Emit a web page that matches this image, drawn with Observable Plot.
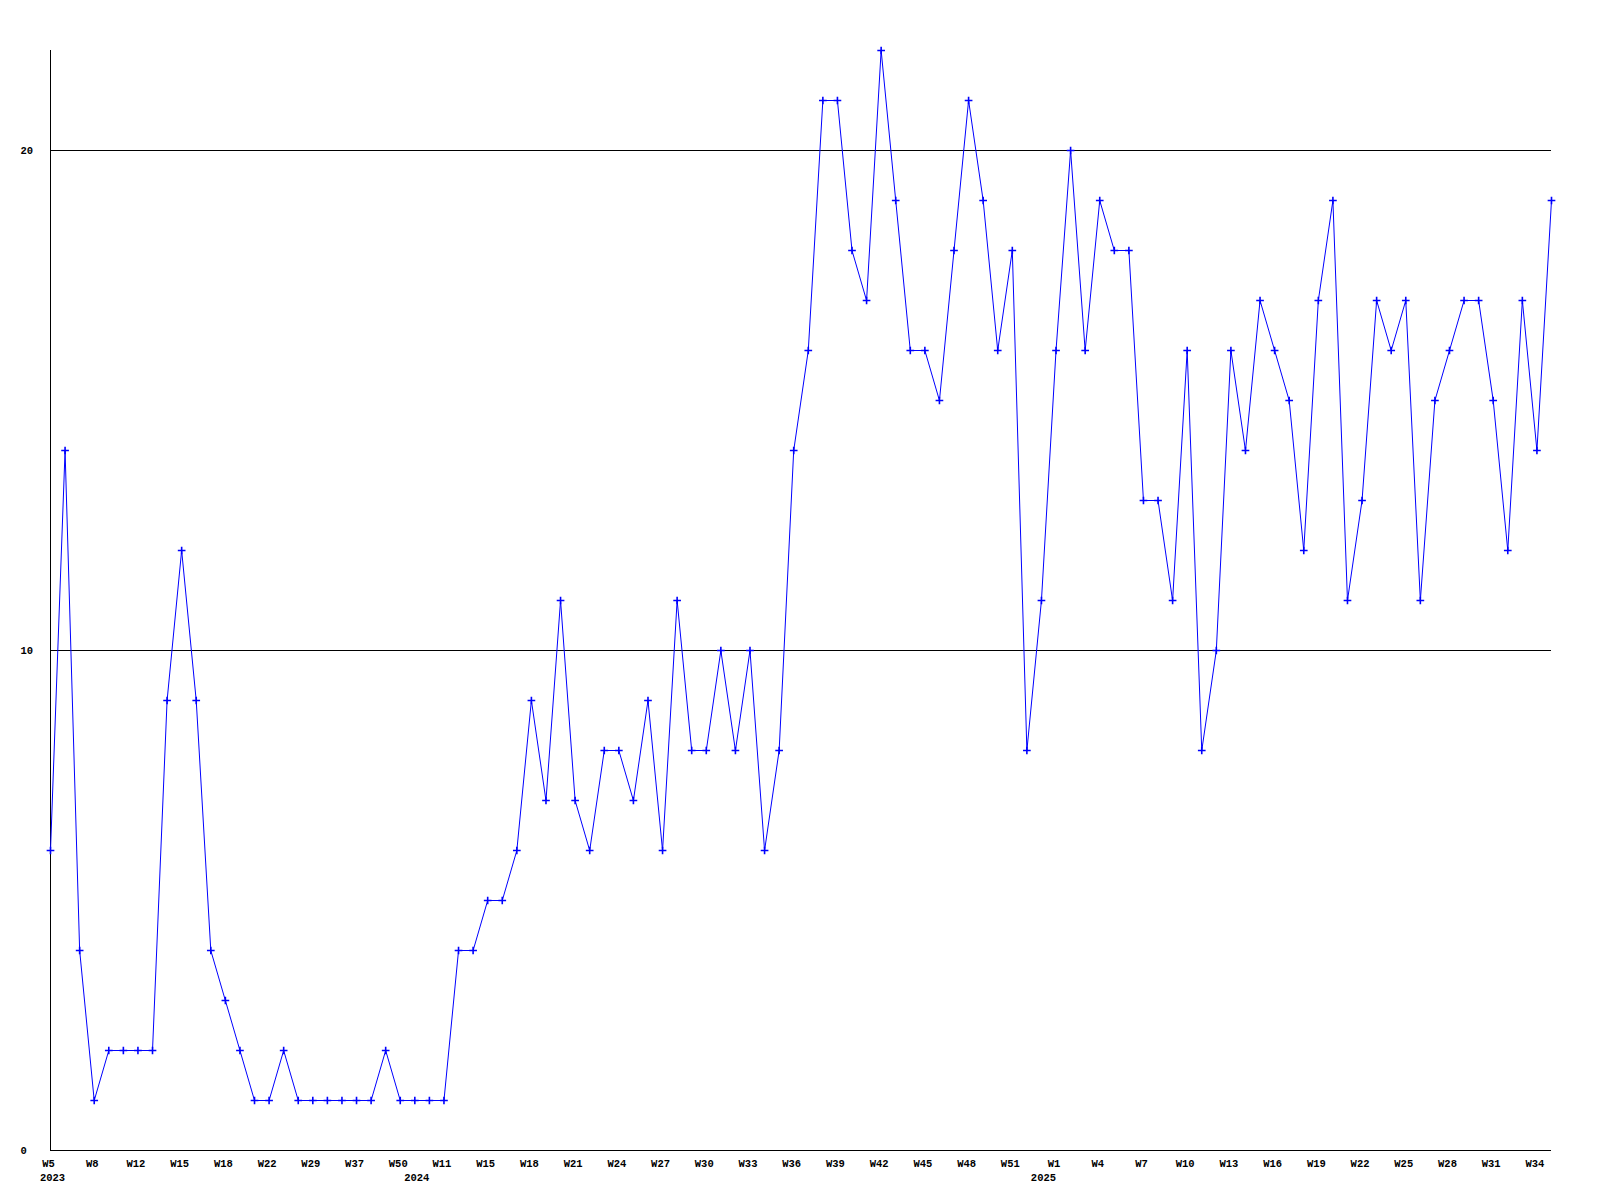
<!DOCTYPE html>
<html>
<head>
<meta charset="utf-8">
<script src="https://cdn.jsdelivr.net/npm/d3@7"></script>
<script src="https://cdn.jsdelivr.net/npm/@observablehq/plot@0.6"></script>
<style>
  html, body { margin: 0; padding: 0; background: #ffffff; }
  #chart svg { display: block; }
</style>
</head>
<body>
<div id="chart"></div>
<script>
// Weekly counts, one per data point (equally spaced on the x axis)
const values = [
  6, 14, 4, 1, 2, 2, 2, 2, 9, 12,
  9, 4, 3, 2, 1, 1, 2, 1, 1, 1,
  1, 1, 1, 2, 1, 1, 1, 1, 4, 4,
  5, 5, 6, 9, 7, 11, 7, 6, 8, 8,
  7, 9, 6, 11, 8, 8, 10, 8, 10, 6,
  8, 14, 16, 21, 21, 18, 17, 22, 19, 16,
  16, 15, 18, 21, 19, 16, 18, 8, 11, 16,
  20, 16, 19, 18, 18, 13, 13, 11, 16, 8,
  10, 16, 14, 17, 16, 15, 12, 17, 19, 11,
  13, 17, 16, 17, 11, 15, 16, 17, 17, 15,
  12, 17, 14, 19
];

// x tick labels (every third point)
const tickIndex = [0, 3, 6, 9, 12, 15, 18, 21, 24, 27, 30, 33, 36, 39, 42, 45, 48, 51,
  54, 57, 60, 63, 66, 69, 72, 75, 78, 81, 84, 87, 90, 93, 96, 99, 102];
const tickLabels = ["W5", "W8", "W12", "W15", "W18", "W22", "W29", "W37", "W50",
  "W11", "W15", "W18", "W21", "W24", "W27", "W30", "W33", "W36", "W39", "W42",
  "W45", "W48", "W51", "W1", "W4", "W7", "W10", "W13", "W16", "W19", "W22",
  "W25", "W28", "W31", "W34"];

// year labels at the first point of each year
const yearIndex = [0, 25, 68];
const yearLabels = ["2023", "2024", "2025"];

// y axis labels / grid lines
const yTicks = [0, 10, 20];
const yGrid = [10, 20];

const data = values.map((v, i) => ({i, v}));

const font = {fontFamily: "Liberation Mono", fontSize: 10.5, fontWeight: "bold", fill: "#000"};

const chart = Plot.plot({
  width: 1600,
  height: 1200,
  marginLeft: 50,
  marginRight: 49,
  marginTop: 50,
  marginBottom: 50,
  x: {domain: [0, values.length - 1], axis: null},
  y: {domain: [0, 22], axis: null},
  style: {background: "#ffffff"},
  marks: [
    Plot.ruleY(yGrid, {stroke: "#000000", strokeWidth: 1}),
    Plot.ruleY([0], {stroke: "#000000", strokeWidth: 1}),
    Plot.ruleX([0], {stroke: "#000000", strokeWidth: 1}),
    Plot.line(data, {x: "i", y: "v", stroke: "#0000ff", strokeWidth: 1}),
    Plot.dot(data, {x: "i", y: "v", symbol: "plus", r: 2.6, fill: "none", stroke: "#0000ff", strokeWidth: 1.6}),
    Plot.text(yTicks, {x: 0, y: d => d, text: d => String(d), textAnchor: "start", dx: -30, ...font}),
    Plot.text(tickIndex, {x: d => d, y: 0, text: (d, i) => tickLabels[i], dy: 13.5, dx: -2, ...font}),
    Plot.text(yearIndex, {x: d => d, y: 0, text: (d, i) => yearLabels[i], dy: 27.5, dx: 2, ...font})
  ]
});

document.getElementById("chart").appendChild(chart);
</script>
</body>
</html>
